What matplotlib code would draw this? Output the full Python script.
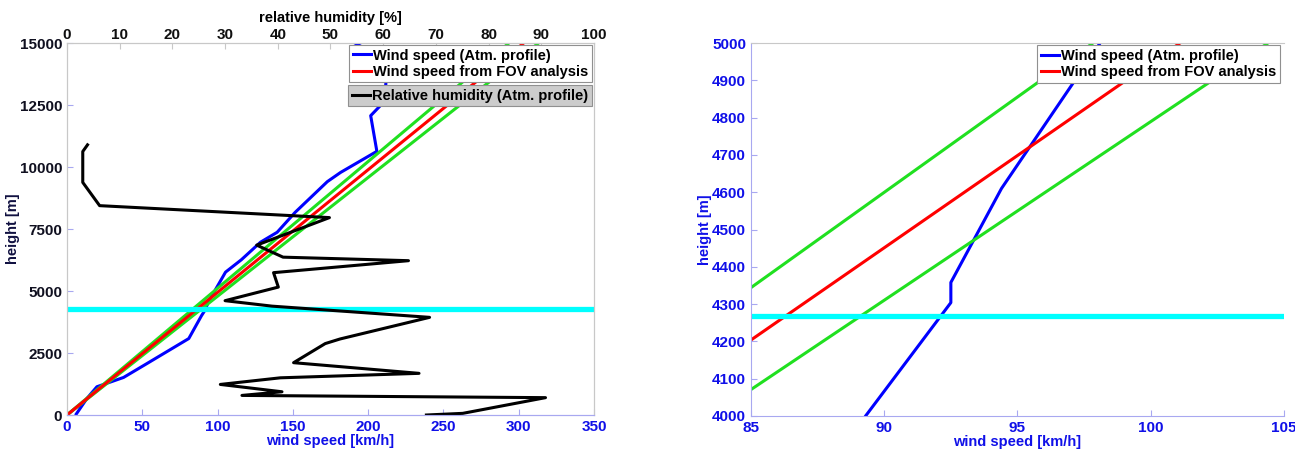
import matplotlib.pyplot as plt
from matplotlib.lines import Line2D

plt.rcParams['font.family'] = ['Liberation Sans', 'DejaVu Sans']
plt.rcParams['font.weight'] = 'bold'
plt.rcParams['font.size'] = 10.5

# wind speed from the atmospheric profile [km/h] vs height [m]
wind_speed = [6.2, 13.3, 19.9, 37.6, 53.2, 80.9, 89.3, 92.5, 92.5, 94.4, 97.1, 98.1,
              105.3, 115.8, 128.5, 139.6, 151.5, 172.9, 181.7, 205.8, 201.7, 208.5,
              211.8, 210.0, 195.3, 191.2]
wind_height = [40, 670, 1140, 1515, 2078, 3083, 4000, 4304, 4358, 4610, 4894, 5000,
               5761, 6260, 6967, 7369, 8170, 9410, 9781, 10632, 12070, 12500,
               13347, 14300, 14866, 15000]

# relative humidity [%] vs height [m]
rh_value = [68.2, 75.1, 90.8, 33.2, 40.8, 29.1, 40.5, 66.8, 43.0, 49.0, 51.8, 68.8,
            38.9, 30.0, 40.1, 39.2, 64.8, 41.0, 36.0, 49.8, 6.2, 3.0, 3.0, 3.9]
rh_height = [0, 67, 700, 790, 937, 1233, 1500, 1680, 2110, 2880, 3065, 3938,
             4390, 4610, 5158, 5740, 6223, 6365, 6850, 7960, 8442, 9379, 10625, 10894]

# FOV analysis: straight lines through the origin (speed at 0 m and 15000 m)
fov_height = [0, 15000]
fov_speed = [0, 303.3]
fov_low = [0, 293.5]
fov_high = [0, 313.2]

cloud_height = 4268

BLUE = '#1010e8'
GREEN = '#20e020'
SPINE_BLUE = '#a8a8f0'
SPINE_GRAY = '#c8c8c8'
TICK_SIZE = 11
LEG_PROP = {'weight': 'bold', 'size': 10.5}


def draw_wind(ax):
  ax.plot(wind_speed, wind_height, color='blue', lw=2.2, label='Wind speed (Atm. profile)')
  ax.plot(fov_low, fov_height, color=GREEN, lw=2.2)
  ax.plot(fov_high, fov_height, color=GREEN, lw=2.2)
  ax.plot(fov_speed, fov_height, color='red', lw=2.2, label='Wind speed from FOV analysis')
  ax.axhline(cloud_height, color='cyan', lw=3.8)


def style(ax, ylab_color):
  ax.tick_params(direction='in', length=4, width=0.8)
  ax.tick_params(axis='x', colors=SPINE_BLUE, labelcolor=BLUE, labelsize=TICK_SIZE)
  ax.spines['bottom'].set_color(SPINE_BLUE)
  ax.spines['top'].set_color(SPINE_GRAY)
  ax.spines['right'].set_color(SPINE_GRAY)
  ax.set_xlabel('wind speed [km/h]', color=BLUE, fontweight='bold', labelpad=0)
  ax.set_ylabel('height [m]', color=ylab_color, fontweight='bold', labelpad=0)


def legend(ax, handles, labels, anchor, face='white', spacing=0.15):
  leg = ax.legend(handles=handles, labels=labels, loc='upper right', bbox_to_anchor=anchor,
                  borderaxespad=0, fancybox=False, edgecolor='#909090', facecolor=face,
                  framealpha=1, handlelength=1.25, handletextpad=0.15, labelspacing=spacing,
                  borderpad=0.25, prop=LEG_PROP)
  leg.get_frame().set_linewidth(0.8)
  return leg


fig = plt.figure(figsize=(12.95, 4.49), dpi=100)

# ---- left panel: full profile ----
ax1 = fig.add_axes([0.0517, 0.0757, 0.4070, 0.8285])
draw_wind(ax1)
ax1.set_xlim(0, 350)
ax1.set_ylim(0, 15000)
ax1.set_xticks(range(0, 351, 50))
ax1.set_yticks(range(0, 15001, 2500))
style(ax1, '#101040')
ax1.tick_params(axis='y', colors=SPINE_BLUE, labelcolor='#101020', labelsize=TICK_SIZE)
ax1.spines['left'].set_color(SPINE_GRAY)

ax2 = ax1.twiny()
ax2.plot(rh_value, rh_height, color='black', lw=2.2)
ax2.set_xlim(0, 100)
ax2.set_xticks(range(0, 101, 10))
ax2.tick_params(axis='x', direction='in', length=4, colors=SPINE_GRAY, labelcolor='#101010',
                labelsize=TICK_SIZE, pad=1)
ax2.set_xlabel('relative humidity [%]', fontweight='bold', labelpad=4)
for s in ax2.spines.values():
  s.set_color(SPINE_GRAY)
ax2.spines['bottom'].set_color(SPINE_BLUE)

h1, l1 = ax1.get_legend_handles_labels()
leg1 = legend(ax2, h1, l1, (0.996, 0.995))
ax2.add_artist(leg1)
legend(ax2, [Line2D([], [], color='black', lw=2.2)], ['Relative humidity (Atm. profile)'],
       (0.996, 0.887), face='#cccccc')

# ---- right panel: zoom around the cloud layer ----
ax3 = fig.add_axes([0.5799, 0.0735, 0.4116, 0.8307])
draw_wind(ax3)
ax3.set_xlim(85, 105)
ax3.set_ylim(4000, 5000)
ax3.set_xticks(range(85, 106, 5))
ax3.set_yticks(range(4000, 5001, 100))
style(ax3, BLUE)
ax3.tick_params(axis='y', colors=SPINE_BLUE, labelcolor=BLUE, labelsize=TICK_SIZE)
ax3.spines['left'].set_color(SPINE_BLUE)
ax3.spines['right'].set_visible(False)
h3, l3 = ax3.get_legend_handles_labels()
legend(ax3, h3, l3, (0.9925, 0.9946))

fig.savefig('out.png', dpi=100)
